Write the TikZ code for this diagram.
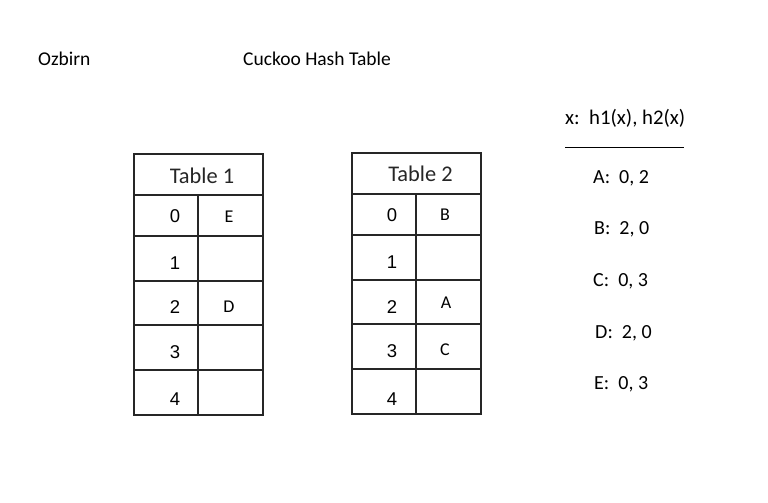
\documentclass[tikz,border=0pt]{standalone}
\usepackage{fontspec}
\setmainfont{Carlito}
\newfontfamily\arialfont{Liberation Sans}
\begin{document}
\begin{tikzpicture}[x=1pt,y=-1pt,
  grid/.style={draw=black!85, line width=1.3pt},
  hdr/.style={anchor=base, inner sep=0pt, font=\fontsize{22.4}{26}\selectfont, text=black!85},
  idx/.style={anchor=base, inner sep=0pt, font=\arialfont\fontsize{18.5}{22}\selectfont},
  val/.style={anchor=base, inner sep=0pt, font=\fontsize{18}{21}\selectfont},
  lbl/.style={anchor=base west, inner sep=0pt, font=\fontsize{19.5}{23}\selectfont},
  hdl/.style={anchor=base west, inner sep=0pt, font=\fontsize{20.8}{24}\selectfont},
  key/.style={anchor=base west, inner sep=0pt, font=\fontsize{20}{24}\selectfont}]
\useasboundingbox[fill=white] (0,0) rectangle (768,503);
% titles
\node[lbl] (auth) at (38,66) {Ozbirn};
\node[lbl] (title) at (243,66) {Cuckoo Hash Table};
% Table 1
\draw[grid] (134,154) rectangle (263,415);
\draw[grid] (134,195) -- (263,195);
\draw[grid] (134,236) -- (263,236);
\draw[grid] (134,281) -- (263,281);
\draw[grid] (134,325) -- (263,325);
\draw[grid] (134,370) -- (263,370);
\draw[grid] (198,195) -- (198,415);
\node[hdr] (t1) at (202,183) {Table 1};
\node[idx] (t1i0) at (175,222) {0};
\node[idx] (t1i1) at (175,269) {1};
\node[idx] (t1i2) at (175,313) {2};
\node[idx] (t1i3) at (175,358) {3};
\node[idx] (t1i4) at (175,405) {4};
\node[val] (t1v0) at (229,222) {E};
\node[val] (t1v2) at (229,312) {D};
% Table 2
\draw[grid] (352,153) rectangle (481,414);
\draw[grid] (352,194) -- (481,194);
\draw[grid] (352,235) -- (481,235);
\draw[grid] (352,280) -- (481,280);
\draw[grid] (352,324) -- (481,324);
\draw[grid] (352,369) -- (481,369);
\draw[grid] (416,194) -- (416,414);
\node[hdr] (t2) at (420.5,181) {Table 2};
\node[idx] (t2i0) at (392,221) {0};
\node[idx] (t2i1) at (392,268) {1};
\node[idx] (t2i2) at (392,313) {2};
\node[idx] (t2i3) at (392,357) {3};
\node[idx] (t2i4) at (392,405) {4};
\node[val] (t2v0) at (445,220) {B};
\node[val] (t2v2) at (446,308) {A};
\node[val] (t2v3) at (445,355) {C};
% hash list
\node[hdl] (hx) at (565,124) {x:\ \ h1(x), h2(x)};
\coordinate (la) at (565,147);
\coordinate (lb) at (684,147);
\draw[line width=1pt] (la) -- (lb);
\node[key] (ka) at (593,183) {A:\ \ 0, 2};
\node[key] (kb) at (594,234) {B:\ \ 2, 0};
\node[key] (kc) at (593,286) {C:\ \ 0, 3};
\node[key] (kd) at (595,338) {D:\ \ 2, 0};
\node[key] (ke) at (594,389) {E:\ \ 0, 3};
\end{tikzpicture}
\end{document}
